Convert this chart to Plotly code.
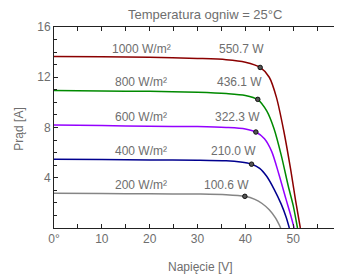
import plotly.graph_objects as go

# ---- data ----
irradiance_labels = ["1000 W/m²", "800 W/m²", "600 W/m²", "400 W/m²", "200 W/m²"]
power_labels = ["550.7 W", "436.1 W", "322.3 W", "210.0 W", "100.6 W"]

v_1000 = [0, 10, 20, 30, 36, 40, 43.1, 45, 46.5, 48, 49.5, 50.5, 51.5]
i_1000 = [13.65, 13.63, 13.6, 13.5, 13.4, 13.2, 12.78, 12.0, 10.4, 7.8, 4.6, 2.2, 0]

v_800 = [0, 10, 20, 30, 36, 40, 42.6, 44.5, 46, 47.5, 49, 50, 50.9]
i_800 = [10.95, 10.9, 10.88, 10.8, 10.7, 10.55, 10.22, 9.3, 7.9, 5.8, 3.3, 1.8, 0]

v_600 = [0, 10, 20, 30, 36, 40, 42.2, 44, 45.5, 47, 48.5, 49.5, 50.2]
i_600 = [8.2, 8.15, 8.1, 8.07, 8.0, 7.88, 7.64, 7.1, 6.1, 4.3, 2.3, 1.0, 0]

v_400 = [0, 10, 20, 30, 36, 39, 41.3, 43, 44.5, 46, 47.5, 48.5, 49.2]
i_400 = [5.47, 5.45, 5.42, 5.4, 5.35, 5.25, 5.08, 4.75, 4.1, 3.1, 1.9, 0.9, 0]

v_200 = [0, 10, 20, 30, 36, 39.9, 42, 43.5, 45, 46.3, 47.4]
i_200 = [2.76, 2.75, 2.72, 2.7, 2.65, 2.52, 2.28, 1.95, 1.45, 0.8, 0]

mpp_v = [43.1, 42.6, 42.2, 41.3, 39.9]
mpp_i = [12.78, 10.24, 7.64, 5.08, 2.52]

x_tickvals = [0, 10, 20, 30, 40, 50, 60]
x_ticktext = ["0°", "10", "20", "30", "40", "50", "60"]
y_tickvals = [4, 8, 12, 16]
y_ticktext = ["4", "8", "12", "16"]

curves_v = [v_1000, v_800, v_600, v_400, v_200]
curves_i = [i_1000, i_800, i_600, i_400, i_200]
colors = ["#8b0000", "#008a00", "#9400ff", "#00008f", "#858585"]

FONT = "Liberation Sans, Arial, sans-serif"
GREY = "#6e6e6e"

fig = go.Figure()
for v, i, c in zip(curves_v, curves_i, colors):
    fig.add_trace(go.Scatter(x=v, y=i, mode="lines", line=dict(color=c, width=1.5, shape="spline", smoothing=0.8),
                             hoverinfo="skip", showlegend=False))

fig.add_trace(go.Scatter(x=mpp_v, y=mpp_i, mode="markers",
                         marker=dict(size=4.5, color="#555555", line=dict(color="#111111", width=1)),
                         showlegend=False, hoverinfo="skip"))

annotations = []
for lab, pw, v, i, mv in zip(irradiance_labels, power_labels, curves_v, curves_i, mpp_v):
    annotations.append(dict(x=18.2, y=i[0], xref="x", yref="y", text=lab, showarrow=False,
                            xanchor="center", yanchor="middle",
                            yshift=8, font=dict(family=FONT, size=12, color=GREY)))
    annotations.append(dict(x=mv, y=i[0], xref="x", yref="y", text=pw, showarrow=False,
                            xanchor="right", yanchor="middle", xshift=6, yshift=8,
                            font=dict(family=FONT, size=12, color=GREY)))

annotations.append(dict(x=0.526, y=1.06, xref="paper", yref="paper", text="Temperatura ogniw = 25°C",
                        xanchor="center", yanchor="middle",
                        showarrow=False, font=dict(family=FONT, size=13, color=GREY)))
annotations.append(dict(x=-0.125, y=0.49, xref="paper", yref="paper", text="Prąd [A]", textangle=-90,
                        xanchor="center", yanchor="middle",
                        showarrow=False, font=dict(family=FONT, size=12, color=GREY)))
annotations.append(dict(x=0.509, y=-0.194, xref="paper", yref="paper", text="Napięcie [V]",
                        xanchor="center", yanchor="middle",
                        showarrow=False, font=dict(family=FONT, size=12, color=GREY)))

# page body has an 8px default margin: size the figure so it fits the 342x275 window
fig.update_layout(
    width=334, height=267,
    margin=dict(l=46, r=1, t=19, b=47, pad=0),
    paper_bgcolor="white", plot_bgcolor="white",
    annotations=annotations,
    xaxis=dict(range=[0, 60], tickvals=x_tickvals, ticktext=x_ticktext, ticks="inside", ticklen=4,
               tickcolor="#222", showline=True, linecolor="#222", linewidth=1, mirror="ticks",
               showgrid=False, zeroline=False, automargin=False, ticklabeloverflow="allow",
               minor=dict(dtick=5, ticks="inside", ticklen=4, tickcolor="#222", showgrid=False),
               tickfont=dict(family=FONT, size=12, color=GREY)),
    yaxis=dict(range=[0, 16], tickvals=y_tickvals, ticktext=y_ticktext, ticks="inside", ticklen=4,
               tickcolor="#222", showline=True, linecolor="#222", linewidth=1, mirror="ticks",
               showgrid=False, zeroline=False, automargin=False, ticklabeloverflow="allow",
               minor=dict(dtick=1, ticks="inside", ticklen=3, tickcolor="#222", showgrid=False),
               tickfont=dict(family=FONT, size=12, color=GREY)),
)

fig.write_html("out.html")
